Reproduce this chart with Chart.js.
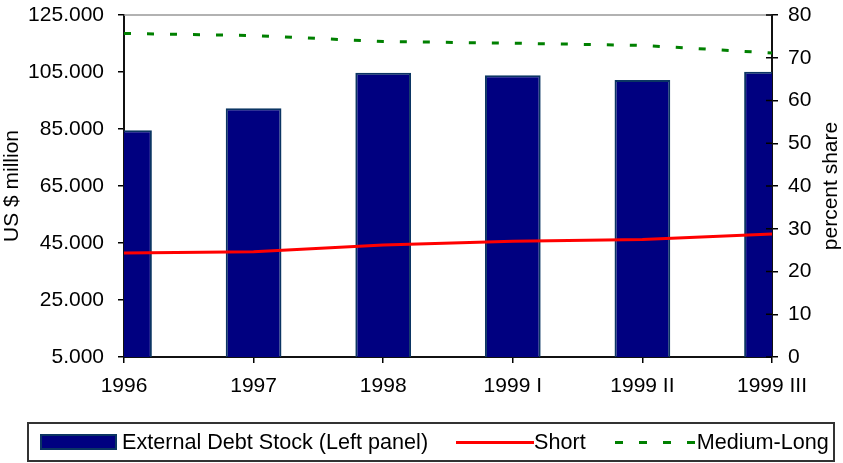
<!DOCTYPE html>
<html>
<head>
<meta charset="utf-8">
<script src="https://cdn.jsdelivr.net/npm/chart.js@4.4.0/dist/chart.umd.min.js"></script>
<style>
  html, body { margin: 0; padding: 0; background: #fff; }
  #wrap { position: relative; width: 843px; height: 463px; }
  #legend {
    position: absolute; left: 27px; top: 422px; width: 804px; height: 36px;
    border: 2px solid #333; display: flex; align-items: center;
    font: 21.6px "Liberation Sans", Arial, sans-serif; color: #000;
    box-sizing: content-box; white-space: nowrap;
  }
  #legend .sw { display: inline-block; flex: none; }
</style>
</head>
<body>
<div id="wrap">
  <canvas id="chart" width="843" height="463"></canvas>
  <div id="legend"></div>
</div>
<script>
const categories = ['1996', '1997', '1998', '1999 I', '1999 II', '1999 III'];
const debtStock = [84600, 92300, 104700, 103900, 102200, 105100];
const shortShare = [24.3, 24.6, 26.2, 27.1, 27.5, 28.8];
const mediumLongShare = [75.7, 75.2, 73.8, 73.4, 72.9, 71.1];
const leftAxis = { min: 5000, max: 125000, step: 20000 };
const rightAxis = { min: 0, max: 80, step: 10 };

const FONT = '"Liberation Sans", Arial, sans-serif';

function dots(v) {
    return String(v).replace(/\B(?=(\d{3})+(?!\d))/g, '.');
}

// top frame line, inner ticks on the right axis, right title (bottom-to-top)
const extras = {
    id: 'extras',
    afterDraw(chart) {
        const s = chart.scales.y1;
        const ca = chart.chartArea;
        const ctx = chart.ctx;
        ctx.save();
        ctx.strokeStyle = '#999';
        ctx.lineWidth = 1.5;
        ctx.beginPath();
        ctx.moveTo(ca.left, ca.top);
        ctx.lineTo(ca.right, ca.top);
        ctx.stroke();

        ctx.strokeStyle = '#000';
        ctx.lineWidth = 1.5;
        s.ticks.forEach((t) => {
            const y = s.getPixelForValue(t.value);
            ctx.beginPath();
            ctx.moveTo(ca.right - 6, y);
            ctx.lineTo(ca.right, y);
            ctx.stroke();
        });

        ctx.translate(s.right - 12, (ca.top + ca.bottom) / 2);
        ctx.rotate(-Math.PI / 2);
        ctx.font = '21px ' + FONT;
        ctx.fillStyle = '#000';
        ctx.textAlign = 'center';
        ctx.textBaseline = 'middle';
        ctx.fillText('percent share', 0, 0);
        ctx.restore();
    }
};

// fixed axis sizes; keep label padding from pushing the plot down
function fixVertical(width) {
    return function (s) {
        s.width = width;
        s.paddingTop = 10;
        s.paddingBottom = 10;
    };
}

const ctx = document.getElementById('chart').getContext('2d');
const chart = new Chart(ctx, {
    type: 'bar',
    data: {
        labels: categories,
        datasets: [{
            type: 'bar',
            label: 'External Debt Stock (Left panel)',
            data: debtStock,
            yAxisID: 'y',
            backgroundColor: '#000080',
            borderColor: '#0b3563',
            borderWidth: 2,
            borderSkipped: false,
            barPercentage: 0.43,
            categoryPercentage: 1,
            clip: 0,
            order: 3
        }, {
            type: 'line',
            label: 'Short',
            data: shortShare,
            yAxisID: 'y1',
            borderColor: '#ff0000',
            borderWidth: 3,
            pointRadius: 0,
            tension: 0,
            order: 1
        }, {
            type: 'line',
            label: 'Medium-Long',
            data: mediumLongShare,
            yAxisID: 'y1',
            borderColor: '#008000',
            borderWidth: 3,
            borderDash: [7, 16],
            pointRadius: 0,
            tension: 0,
            order: 2
        }]
    },
    options: {
        responsive: false,
        animation: false,
        devicePixelRatio: 1,
        layout: { padding: { top: 15, left: 0, right: 0, bottom: 0 } },
        plugins: {
            legend: { display: false },
            tooltip: { enabled: false }
        },
        scales: {
            x: {
                offset: false,
                grid: { display: true, offset: false, drawOnChartArea: false, tickLength: 6, color: '#000', lineWidth: 1.5 },
                border: { color: '#111', width: 2 },
                ticks: { color: '#000', font: { family: FONT, size: 21 }, padding: 11, maxRotation: 0, autoSkip: false },
                afterFit(s) { s.height = 106; }
            },
            y: {
                position: 'left',
                min: leftAxis.min,
                max: leftAxis.max,
                grid: { display: true, drawOnChartArea: false, tickLength: 6, color: '#000', lineWidth: 1.5 },
                border: { color: '#111', width: 2 },
                ticks: {
                    stepSize: leftAxis.step,
                    color: '#000',
                    font: { family: FONT, size: 21 },
                    padding: 14,
                    callback: (v) => dots(v)
                },
                title: { display: true, text: 'US $ million', color: '#000', font: { family: FONT, size: 21 }, padding: 0 },
                afterFit: fixVertical(124)
            },
            y1: {
                position: 'right',
                min: rightAxis.min,
                max: rightAxis.max,
                grid: { display: true, drawOnChartArea: false, tickLength: 6, color: '#000', lineWidth: 1.5 },
                border: { color: '#111', width: 2 },
                ticks: { stepSize: rightAxis.step, color: '#000', font: { family: FONT, size: 21 }, padding: 10 },
                afterFit: fixVertical(71)
            }
        }
    },
    plugins: [extras]
});

// legend built from the datasets
const legend = document.getElementById('legend');
const gaps = [[11, 5], [28, 0], [29, 2]];
chart.data.datasets.forEach((ds, i) => {
    const sw = document.createElement('span');
    sw.className = 'sw';
    sw.style.marginLeft = gaps[i][0] + 'px';
    sw.style.marginRight = gaps[i][1] + 'px';
    if (ds.type === 'bar') {
        sw.style.width = '73px';
        sw.style.height = '12px';
        sw.style.background = ds.backgroundColor;
        sw.style.border = '2px solid ' + ds.borderColor;
    } else if (ds.borderDash) {
        sw.style.width = '80px';
        sw.style.height = '3px';
        sw.style.background = 'repeating-linear-gradient(to right, ' + ds.borderColor + ' 0 8px, transparent 8px 24px)';
    } else {
        sw.style.width = '78px';
        sw.style.height = '3px';
        sw.style.background = ds.borderColor;
    }
    const txt = document.createElement('span');
    txt.textContent = ds.label;
    legend.appendChild(sw);
    legend.appendChild(txt);
});
</script>
</body>
</html>
